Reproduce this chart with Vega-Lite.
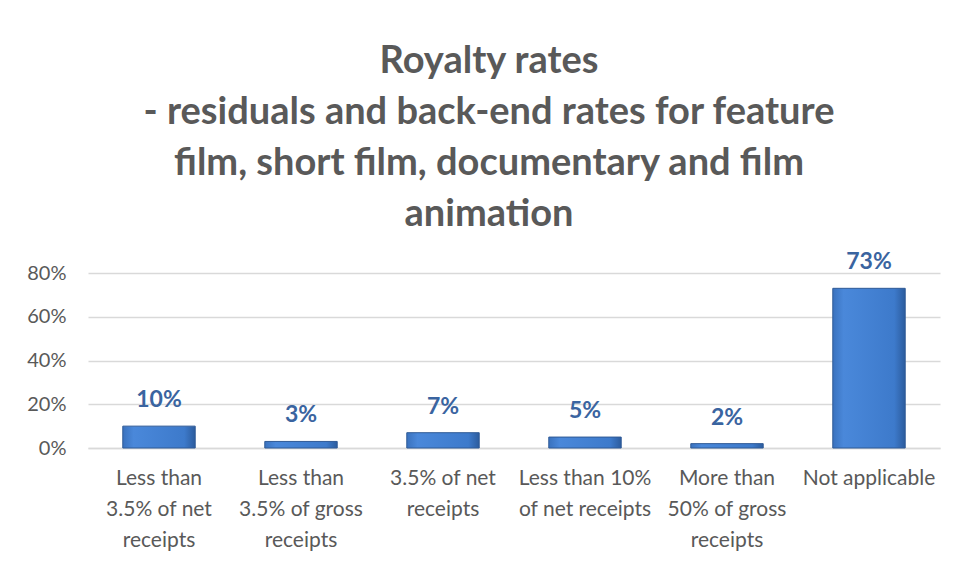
{
  "$schema": "https://vega.github.io/schema/vega-lite/v6.json",
  "autosize": "none",
  "width": 852,
  "height": 175,
  "padding": {"left": 88, "top": 273, "right": 17, "bottom": 113},
  "background": "white",
  "title": {
    "text": ["Royalty rates", "- residuals and back-end rates for feature", "film, short film, documentary and film", "animation"],
    "font": "Lato",
    "fontSize": 38,
    "fontWeight": "bold",
    "color": "#595959",
    "lineHeight": 51,
    "anchor": "middle",
    "dx": -25,
    "offset": 17
  },
  "data": {
    "values": [
      {"category": "Less than|3.5% of net|receipts", "value": 0.10, "label": "10%"},
      {"category": "Less than|3.5% of gross|receipts", "value": 0.03, "label": "3%"},
      {"category": "3.5% of net|receipts", "value": 0.07, "label": "7%"},
      {"category": "Less than 10%|of net receipts", "value": 0.05, "label": "5%"},
      {"category": "More than|50% of gross|receipts", "value": 0.02, "label": "2%"},
      {"category": "Not applicable", "value": 0.73, "label": "73%"}
    ]
  },
  "encoding": {
    "x": {
      "field": "category",
      "type": "nominal",
      "sort": null,
      "scale": {"paddingInner": 0.49, "paddingOuter": 0.245},
      "axis": {
        "title": null,
        "labelAngle": 0,
        "labelExpr": "split(datum.label, '|')",
        "labelFont": "Lato",
        "labelFontSize": 21,
        "labelColor": "#595959",
        "labelLineHeight": 31,
        "labelPadding": 19,
        "labelBaseline": "top",
        "ticks": false,
        "domainColor": "#D9D9D9",
        "domainWidth": 1.5,
        "labelLimit": 200
      }
    },
    "y": {
      "field": "value",
      "type": "quantitative",
      "scale": {"domain": [0, 0.8]},
      "axis": {
        "title": null,
        "format": ".0%",
        "values": [0, 0.2, 0.4, 0.6, 0.8],
        "labelFont": "Lato",
        "labelFontSize": 20,
        "labelColor": "#595959",
        "labelPadding": 22,
        "ticks": false,
        "domain": false,
        "gridColor": "#D9D9D9",
        "gridWidth": 1.5
      }
    }
  },
  "layer": [
    {
      "mark": {
        "type": "bar",
        "fill": {
          "gradient": "linear",
          "x1": 0, "y1": 0, "x2": 1, "y2": 0,
          "stops": [
            {"offset": 0, "color": "#3A72BE"},
            {"offset": 0.15, "color": "#4A88DA"},
            {"offset": 0.85, "color": "#3D7ACB"},
            {"offset": 1, "color": "#2C5C9E"}
          ]
        },
        "stroke": "#2F5A96",
        "strokeWidth": 1
      }
    },
    {
      "mark": {
        "type": "text",
        "font": "Lato",
        "fontSize": 23,
        "fontWeight": "bold",
        "color": "#3A64A0",
        "baseline": "alphabetic",
        "dy": -19
      },
      "encoding": {
        "text": {"field": "label"}
      }
    }
  ],
  "config": {
    "view": {"stroke": null}
  }
}
